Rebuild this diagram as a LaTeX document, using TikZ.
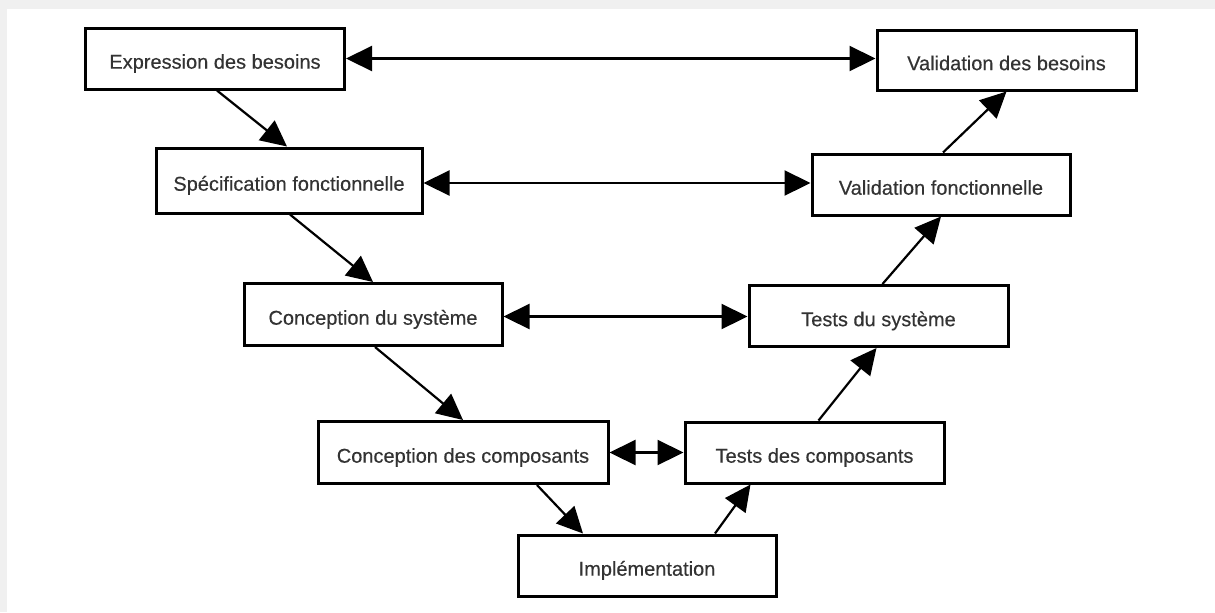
\documentclass[tikz,border=0pt]{standalone}
\usepackage{fontspec}
\setmainfont{Liberation Sans}
\newfontfamily\boxfont{Liberation Sans}[FakeBold=0.35]
\usetikzlibrary{arrows.meta}
\begin{document}
\begin{tikzpicture}[x=0.5pt,y=-0.5pt,
  box/.style={draw=black, line width=1.5pt, fill=white, inner sep=0pt,
    text height=10.2pt, text depth=0pt,
    font=\boxfont\fontsize{10}{12}\selectfont, text=black!80},
  flow/.style={line width=1.1pt, -{Triangle[length=13pt,width=12.5pt]}},
  link/.style={line width=1.1pt, {Triangle[length=13pt,width=12.5pt]}-{Triangle[length=13pt,width=12.5pt]}}]
  % page frame
  \useasboundingbox (0,0) rectangle (1215,612);
  \fill[white] (0,0) rectangle (1215,612);
  \fill[gray!12] (0,0) rectangle (1215,9);
  \fill[gray!12] (0,0) rectangle (7,612);

  % left branch
  \node[box, minimum width=259pt/2, minimum height=61pt/2] (eb) at (215,58.5) {Expression des besoins};
  \node[box, minimum width=266pt/2, minimum height=65pt/2] (sf) at (289,180.5) {Spécification fonctionnelle};
  \node[box, minimum width=258pt/2, minimum height=62pt/2] (cs) at (373,314.5) {Conception du système};
  \node[box, minimum width=290pt/2, minimum height=62pt/2] (cc) at (463,452.5) {Conception des composants};
  % bottom
  \node[box, minimum width=258pt/2, minimum height=61pt/2] (im) at (647,565.5) {Implémentation};
  % right branch
  \node[box, minimum width=259pt/2, minimum height=61pt/2] (tc) at (814.5,452.5) {Tests des composants};
  \node[box, minimum width=259pt/2, minimum height=61pt/2] (ts) at (878.5,316) {Tests du système};
  \node[box, minimum width=258pt/2, minimum height=61pt/2] (vf) at (941,184.5) {Validation fonctionnelle};
  \node[box, minimum width=259pt/2, minimum height=60pt/2] (vb) at (1006.5,60) {Validation des besoins};

  % descending flow
  \draw[flow] ([xshift=1pt]eb.south) -- ([xshift=-1pt]sf.north);
  \draw[flow] ([xshift=0.5pt]sf.south) -- (cs.north);
  \draw[flow] ([xshift=1pt]cs.south) -- (cc.north);
  \draw[flow] ([xshift=37pt]cc.south) -- ([xshift=-32pt]im.north);
  % ascending flow
  \draw[flow] ([xshift=34pt]im.north) -- ([xshift=-32pt]tc.south);
  \draw[flow] ([xshift=2pt]tc.north) -- ([xshift=-1pt]ts.south);
  \draw[flow] ([xshift=2pt]ts.north) -- (vf.south);
  \draw[flow] ([xshift=1pt]vf.north) -- (vb.south);

  % level correspondences
  \draw[link] (eb.east) -- (eb.east -| vb.west);
  \draw[link] ([yshift=-1.25pt]sf.east) -- ([yshift=-1.25pt]sf.east -| vf.west);
  \draw[link] ([yshift=-1pt]cs.east) -- ([yshift=-1pt]cs.east -| ts.west);
  \draw[link] (cc.east) -- (cc.east -| tc.west);
\end{tikzpicture}
\end{document}
